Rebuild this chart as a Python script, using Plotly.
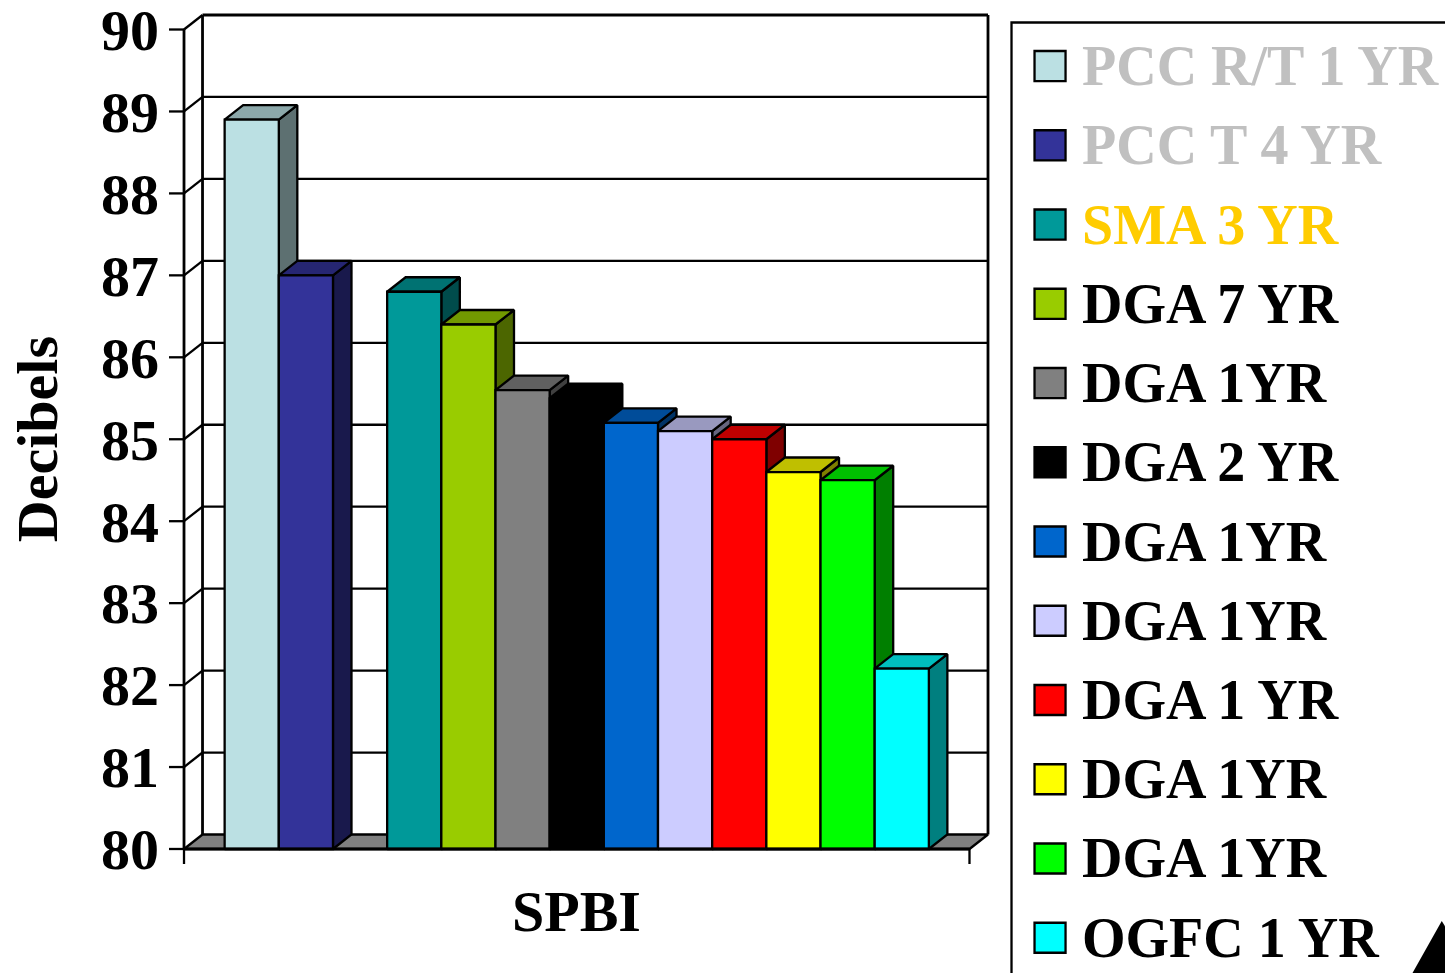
import plotly.graph_objects as go

# ---- data -------------------------------------------------------------
category = "SPBI"
series_names = ["PCC R/T 1 YR", "PCC T 4 YR", "SMA 3 YR", "DGA 7 YR", "DGA 1YR",
                "DGA 2 YR", "DGA 1YR", "DGA 1YR", "DGA 1 YR", "DGA 1YR", "DGA 1YR",
                "OGFC 1 YR"]
decibels = [88.9, 87.0, 86.8, 86.4, 85.6, 85.5, 85.2, 85.1, 85.0, 84.6, 84.5, 82.2]
y_tick_values = list(range(80, 91))

# ---- styles -----------------------------------------------------------
bar_colors = ["#BBE0E3", "#333399", "#009999", "#99CC00", "#808080", "#000000",
              "#0066CC", "#CCCCFF", "#FF0000", "#FFFF00", "#00FF00", "#00FFFF"]
legend_text_colors = ["#C0C0C0", "#C0C0C0", "#FFCC00"] + ["#000000"] * 9
FONT = "Liberation Serif"

# ---- 3-D column geometry ----------------------------------------------
W, H = 1445, 973
PX_CAT = 785.0          # pixels per category width on the front plane
PX_DB = 81.9            # pixels per decibel
DX = 18.5 / PX_CAT      # depth offset of the back wall (x, category units)
DY = 14.5 / PX_DB       # depth offset of the back wall (y, dB)
Y_MIN, Y_MAX = 80, 90
SLOT_COUNT = 13         # one slot per series, third slot left blank
EMPTY_SLOTS = {2}
GAP_WIDTH = 1.5         # gap between clusters, in bar widths
TOP_SHADE, SIDE_SHADE = 0.75, 0.5
LW = 2.3                # outline width

PAD_L, PAD_R, PAD_T, PAD_B = 15, 3, 3, 16   # room for ticks / edge strokes (px)
FRONT_LEFT_PX, FLOOR_PX = 184, 849

x_range = [-PAD_L / PX_CAT, 1 + DX + PAD_R / PX_CAT]
y_range = [Y_MIN - PAD_B / PX_DB, Y_MAX + DY + PAD_T / PX_DB]
plot_w = (x_range[1] - x_range[0]) * PX_CAT
plot_h = (y_range[1] - y_range[0]) * PX_DB
m_l = FRONT_LEFT_PX - PAD_L
m_b = H - FLOOR_PX - PAD_B
m_r = W - m_l - plot_w
m_t = H - m_b - plot_h


def px(xp):
    return (xp - m_l) / plot_w


def py(yp):
    return (H - m_b - yp) / plot_h


def shade(hex_color, k):
    r, g, b = (int(hex_color[i:i + 2], 16) for i in (1, 3, 5))
    return "#{:02X}{:02X}{:02X}".format(int(r * k), int(g * k), int(b * k))


def poly(xs, ys, fill, width=LW):
    return go.Scatter(x=xs + [xs[0]], y=ys + [ys[0]], mode="lines", fill="toself",
                      fillcolor=fill, line=dict(color="black", width=width),
                      hoverinfo="skip", showlegend=False)


def segs(pairs, width=LW, color="black"):
    xs, ys = [], []
    for (x0, y0), (x1, y1) in pairs:
        xs += [x0, x1, None]
        ys += [y0, y1, None]
    return go.Scatter(x=xs, y=ys, mode="lines", line=dict(color=color, width=width),
                      hoverinfo="skip", showlegend=False)


fig = go.Figure()

# floor
fig.add_trace(poly([0, 1, 1 + DX, DX],
                   [Y_MIN, Y_MIN, Y_MIN + DY, Y_MIN + DY], "#808080"))

# back wall gridlines and edges
grid = [((DX, v + DY), (1 + DX, v + DY)) for v in y_tick_values[1:-1]]
fig.add_trace(segs(grid, LW))
edges = [((DX, Y_MAX + DY), (1 + DX, Y_MAX + DY)),
         ((DX, Y_MIN + DY), (DX, Y_MAX + DY)),
         ((1 + DX, Y_MIN + DY), (1 + DX, Y_MAX + DY))]
fig.add_trace(segs(edges, 2.8))

# side wall diagonals
side_wall = [((0, v), (DX, v + DY)) for v in y_tick_values[1:]]
fig.add_trace(segs(side_wall, LW))

# columns, left to right so each one hides its neighbour's side face
bar_w = 1.0 / (SLOT_COUNT + GAP_WIDTH)
slots = [s for s in range(SLOT_COUNT) if s not in EMPTY_SLOTS]
for slot, value, color in zip(slots, decibels, bar_colors):
    left = 0.5 + (slot - SLOT_COUNT / 2) * bar_w
    right = left + bar_w
    fig.add_trace(poly([right, right, right + DX, right + DX],
                       [Y_MIN, value, value + DY, Y_MIN + DY], shade(color, SIDE_SHADE)))
    fig.add_trace(poly([left, right, right + DX, left + DX],
                       [value, value, value + DY, value + DY], shade(color, TOP_SHADE)))
    fig.add_trace(poly([left, right, right, left],
                       [Y_MIN, Y_MIN, value, value], color))

# front value axis, its ticks and the category ticks
tick_len_x = PAD_L / PX_CAT
tick_len_y = 15 / PX_DB
fig.add_trace(segs([((0, Y_MIN), (0, Y_MAX)),
                    ((0, Y_MIN), (1, Y_MIN))], 2.8))
fig.add_trace(segs([((-tick_len_x, v), (0, v)) for v in y_tick_values], LW))
fig.add_trace(segs([((c, Y_MIN), (c, Y_MIN - tick_len_y)) for c in (0, 1)], LW))

# titles
fig.add_annotation(x=0.5, xref="x", y=py(911), yref="paper", text=category,
                   showarrow=False, xanchor="center", yanchor="middle",
                   font=dict(family=FONT, size=58, color="black", weight="bold"))
fig.add_annotation(x=px(37), xref="paper", y=85, yref="y", text="Decibels",
                   textangle=-90, showarrow=False, xanchor="center", yanchor="middle",
                   font=dict(family=FONT, size=58, color="black", weight="bold"))

# legend box
ROW0, ROW_STEP = 66.5, 79.2
fig.add_shape(type="rect", xref="paper", yref="paper",
              x0=px(1011), x1=px(1470), y0=py(23), y1=py(1000),
              line=dict(color="black", width=2.3), fillcolor="rgba(0,0,0,0)")
for i, (name, color, tcolor) in enumerate(zip(series_names, bar_colors,
                                               legend_text_colors)):
    cy = ROW0 + i * ROW_STEP
    fig.add_shape(type="rect", xref="paper", yref="paper",
                  x0=px(1034), x1=px(1065), y0=py(cy - 15), y1=py(cy + 15),
                  line=dict(color="black", width=2.3), fillcolor=color)
    fig.add_annotation(x=px(1079), xref="paper", y=py(cy), yref="paper", text=name,
                       showarrow=False, xanchor="left", yanchor="middle",
                       font=dict(family=FONT, size=56, color=tcolor, weight="bold"))

# corner ornament
fig.add_shape(type="path", xref="paper", yref="paper", line=dict(width=0),
              fillcolor="black",
              path="M {} {} L {} {} L {} {} Z".format(px(1410), py(976), px(1441), py(921),
                                                       px(1475), py(976)))

fig.update_layout(
    width=W, height=H, autosize=False,
    margin=dict(l=m_l, r=m_r, t=m_t, b=m_b, pad=0, autoexpand=False),
    paper_bgcolor="white", plot_bgcolor="white",
    showlegend=False,
    xaxis=dict(range=x_range, visible=False, fixedrange=True, automargin=False),
    yaxis=dict(range=y_range, tickvals=y_tick_values,
               ticktext=[str(v) for v in y_tick_values], ticks="",
               showgrid=False, zeroline=False, showline=False, automargin=False,
               ticklabelstandoff=9, ticklabeloverflow="allow", fixedrange=True,
               tickfont=dict(family=FONT, size=58, color="black", weight="bold")),
)

fig.write_html("out.html")
